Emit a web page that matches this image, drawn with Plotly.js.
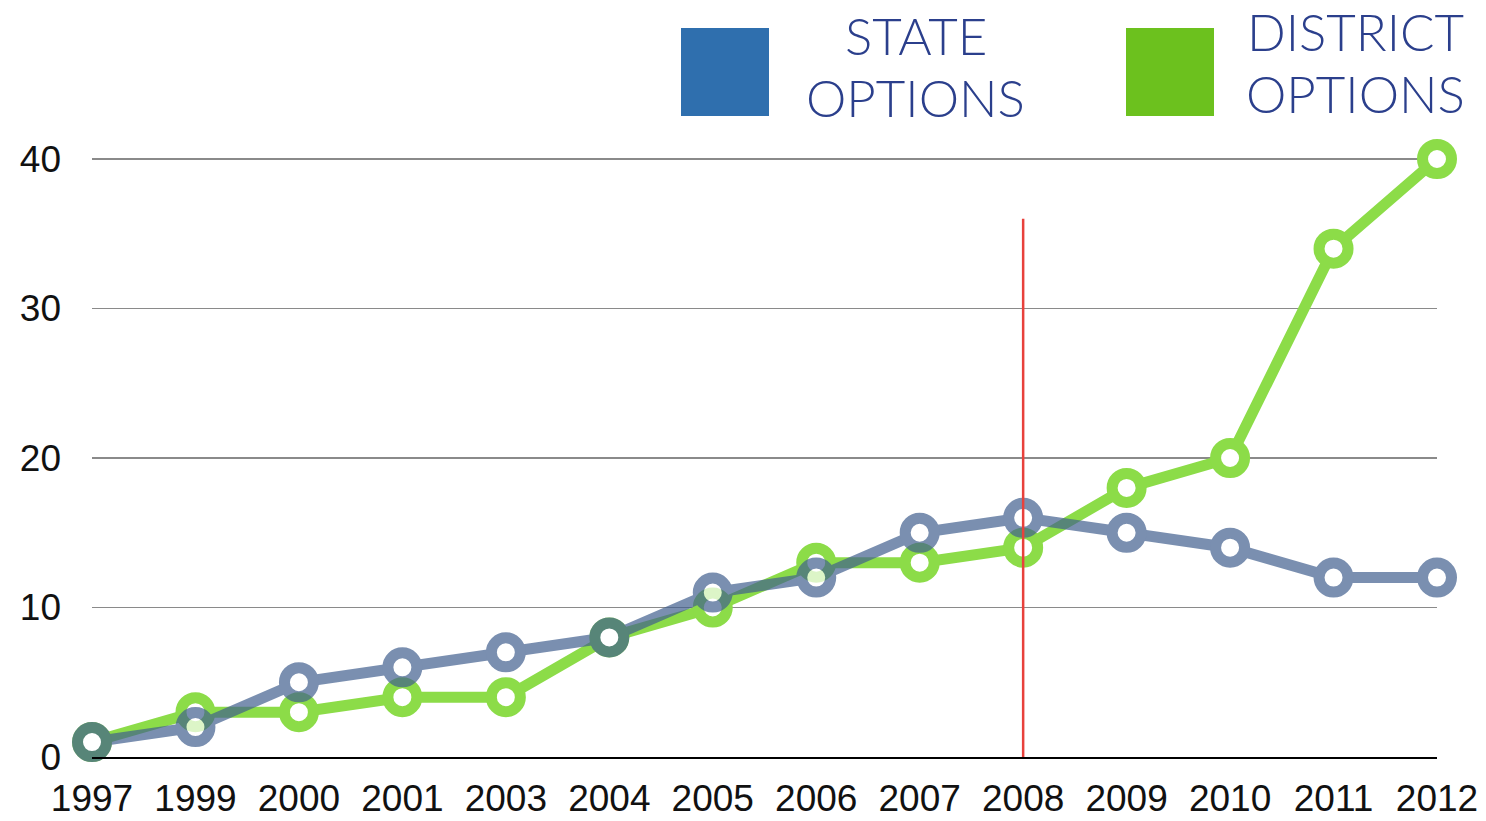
<!DOCTYPE html>
<html><head><meta charset="utf-8">
<script src="https://cdn.plot.ly/plotly-3.0.1.min.js"></script>
<style>html,body{margin:0;padding:0;background:#fff;}#chart{width:1486px;height:821px;}</style>
</head><body><div id="chart"></div>
<script>
const years = ['1997','1999','2000','2001','2003','2004','2005','2006','2007','2008','2009','2010','2011','2012'];
const stateOptions = [1, 2, 5, 6, 7, 8, 11, 12, 15, 16, 15, 14, 12, 12];
const districtOptions = [1, 3, 3, 4, 4, 8, 10, 13, 13, 14, 18, 20, 34, 40];
const yTicks = [0, 10, 20, 30, 40];
const markerYear = '2008';
const markerTop = 36;

const green = '#8cdc48';
const blue = 'rgb(65,95,142)';
const textBlue = '#2b3f8c';

const traces = [
  {x: years, y: districtOptions, type: 'scatter', mode: 'lines+markers', name: 'DISTRICT OPTIONS',
   line: {color: green, width: 11}, cliponaxis: false,
   marker: {symbol: 'circle', size: 29, color: '#fff', line: {color: green, width: 11}}},
  {x: years, y: stateOptions, type: 'scatter', mode: 'lines+markers', name: 'STATE OPTIONS',
   opacity: 0.7, cliponaxis: false,
   line: {color: blue, width: 11},
   marker: {symbol: 'circle', size: 29, color: '#fff', line: {color: blue, width: 11}}}
];

const W = 1345, H = 601, L = 92, T = 156;
const px = v => (v - L) / W;
const py = v => (T + H - v) / H;
const xi = years.indexOf(markerYear);

const legendFont = {family: 'Lato, Open Sans, sans-serif', size: 51, color: textBlue, weight: 300};
function lab(text, x, y) {
  return {xref: 'paper', yref: 'paper', x: px(x), y: py(y), text: text, showarrow: false,
          xanchor: 'center', yanchor: 'middle', align: 'center', font: legendFont};
}

const layout = {
  width: 1486, height: 821,
  margin: {l: 92, r: 49, t: 156, b: 64},
  paper_bgcolor: '#fff', plot_bgcolor: '#fff',
  showlegend: false,
  font: {family: 'Liberation Sans, Arial, sans-serif', color: '#111'},
  xaxis: {type: 'category', range: [0, years.length - 1], showgrid: false, zeroline: false,
          showline: true, linecolor: '#000', linewidth: 2, ticks: '',
          tickfont: {size: 37, color: '#111'}, ticklabelstandoff: 8},
  yaxis: {range: [0, 40.2], tickvals: yTicks, ticktext: yTicks.map(String), showgrid: true,
          gridcolor: '#8a8a8a', gridwidth: 1.5, zeroline: false, showline: false, ticks: '',
          tickfont: {size: 37, color: '#111'}, ticklabelstandoff: 30},
  shapes: [
    {type: 'line', xref: 'x', yref: 'y', x0: xi, x1: xi, y0: 0, y1: markerTop,
     line: {color: '#e8413c', width: 2.5}, layer: 'above'},
    {type: 'rect', xref: 'paper', yref: 'paper', x0: px(681), x1: px(769), y0: py(116), y1: py(28),
     fillcolor: '#2f6fae', line: {width: 0}},
    {type: 'rect', xref: 'paper', yref: 'paper', x0: px(1126), x1: px(1214), y0: py(116), y1: py(28),
     fillcolor: '#6cc11e', line: {width: 0}}
  ],
  annotations: [
    lab('STATE', 916, 36), lab('OPTIONS', 916, 97),
    lab('DISTRICT', 1355, 32), lab('OPTIONS', 1355, 93)
  ]
};

Plotly.newPlot('chart', traces, layout, {displayModeBar: false, staticPlot: true});
</script>
</body></html>
